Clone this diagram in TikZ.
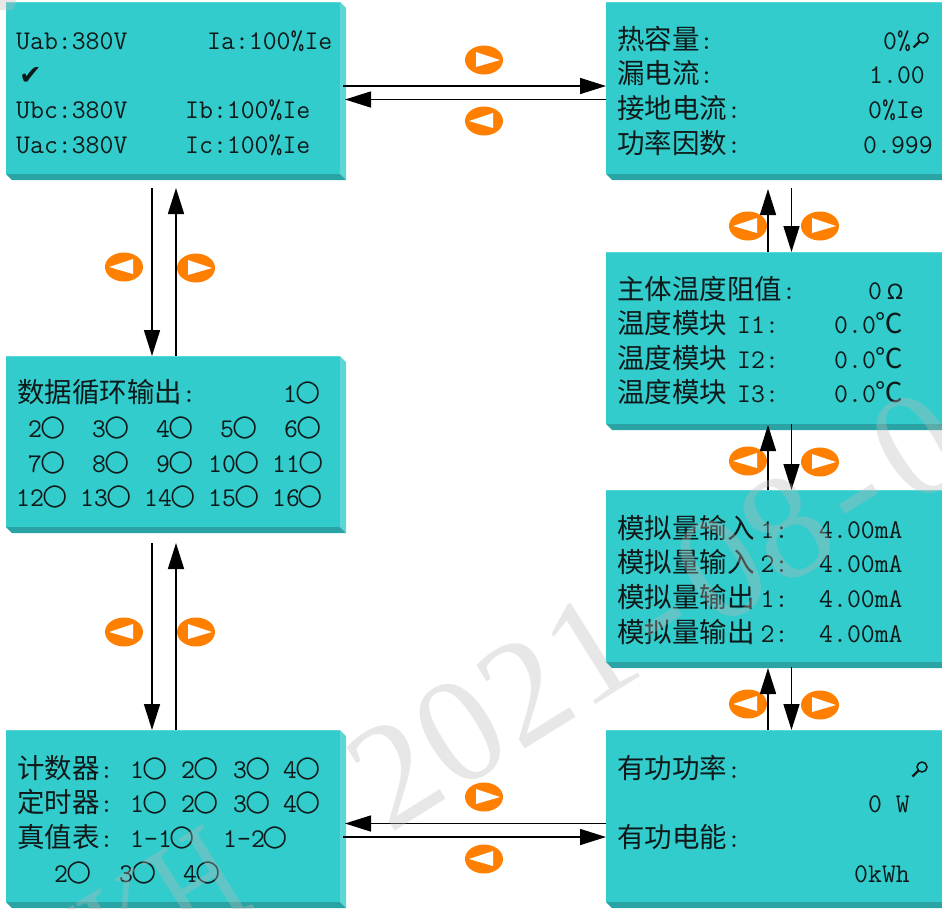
\documentclass[tikz,border=0pt]{standalone}
\usepackage{fontspec}
\usepackage{graphicx}
\usetikzlibrary{shapes.geometric, arrows.meta, positioning}
\newfontfamily\cjk{Noto Sans CJK SC}
\newfontfamily\symfont{DejaVu Sans}
\newfontfamily\markfont{Liberation Serif}
\definecolor{panelfront}{RGB}{50, 204, 204}
\definecolor{panellight}{RGB}{92, 214, 214}
\definecolor{paneldark}{RGB}{41, 163, 163}
\definecolor{keyorange}{RGB}{255, 128, 0}
\definecolor{inkblack}{RGB}{15, 25, 25}
\newcommand{\zh}[1]{{\cjk\fontsize{27.5}{28}\selectfont #1}}
\newcommand{\lamp}{{\symfont\fontsize{29}{28}\selectfont\kern-2pt\raisebox{1.5pt}{○}}}
\newcommand{\cell}[1]{\makebox[77pt]{#1}}
\tikzset{
  panel/.style={rectangle, fill=panelfront, inner sep=0pt, outer sep=0pt, anchor=north west},
  readout/.style={anchor=base west, inner sep=0pt, text=inkblack, font=\ttfamily\fontsize{27}{28}\selectfont},
  flow/.style={line width=1.6pt, -{Triangle[length=26pt, width=16pt]}},
  keyleft/.style={ellipse, fill=keyorange, minimum width=38pt, minimum height=29pt, inner sep=0pt,
    path picture={\fill[white] ([xshift=-15pt]path picture bounding box.center) -- ([xshift=9pt,yshift=8pt]path picture bounding box.center) -- ([xshift=9pt,yshift=-7pt]path picture bounding box.center) -- cycle;}},
  keyright/.style={ellipse, fill=keyorange, minimum width=38pt, minimum height=29pt, inner sep=0pt,
    path picture={\fill[white] ([xshift=16pt]path picture bounding box.center) -- ([xshift=-8pt,yshift=8pt]path picture bounding box.center) -- ([xshift=-8pt,yshift=-7pt]path picture bounding box.center) -- cycle;}},
  lens/.pic={
    \draw[inkblack, line width=1.5pt] (0,0) circle (5pt);
    \draw[inkblack, line width=2.2pt] (-3.5,3.5) -- (-9.5,9.5);
  },
  watermark/.style={inner sep=0pt, rotate=32, text=black!27, opacity=.35, font=\markfont\fontsize{150}{150}\selectfont}
}
\newcommand{\bevel}[1]{
  \fill[panellight] (#1.north east) -- ([xshift=6pt,yshift=-6pt]#1.north east) -- ([xshift=6pt,yshift=-6pt]#1.south east) -- (#1.south east) -- cycle;
  \fill[paneldark] (#1.south west) -- (#1.south east) -- ([xshift=6pt,yshift=-6pt]#1.south east) -- ([xshift=6pt,yshift=-6pt]#1.south west) -- cycle;
  \draw[panellight, line width=.8pt] (#1.north west) -- (#1.north east);
}
\begin{document}
\begin{tikzpicture}[x=1pt, y=-1pt]
  \useasboundingbox (0,0) rectangle (942,908);
  \clip (0,0) rectangle (942,908);

  % Panels
  \node[panel, minimum width=334pt, minimum height=172pt] (volt) at (6,2) {};
  \node[panel, minimum width=334pt, minimum height=171pt] (loop) at (6,356) {};
  \node[panel, minimum width=334pt, minimum height=172pt] (count) at (6,730) {};
  \node[panel, minimum width=338pt, minimum height=172pt] (heat) at (606,2) {};
  \node[panel, minimum width=338pt, minimum height=172pt] (temp) at (606,252) {};
  \node[panel, minimum width=338pt, minimum height=172pt] (analog) at (606,490) {};
  \node[panel, minimum width=338pt, minimum height=172pt] (power) at (606,730) {};
  \bevel{volt} \bevel{loop} \bevel{count} \bevel{heat} \bevel{temp} \bevel{analog} \bevel{power}

  % Keys
  \node[keyright] (keya) at (484,60) {};
  \node[keyleft] (keyb) at (484,121) {};
  \node[keyleft] (keyc) at (124,267) {};
  \node[keyright] (keyd) at (196,268) {};
  \node[keyleft] (keye) at (124,632) {};
  \node[keyright] (keyf) at (196,632) {};
  \node[keyleft] (keyg) at (748,226) {};
  \node[keyright] (keyh) at (820,226) {};
  \node[keyleft] (keyi) at (748,461) {};
  \node[keyright] (keyj) at (820,462) {};
  \node[keyleft] (keyk) at (748,704) {};
  \node[keyright] (keyl) at (820,705) {};
  \node[keyright] (keym) at (484,797) {};
  \node[keyleft] (keyn) at (484,859) {};

  % Connectors
  \draw[flow] ([xshift=3pt,yshift=-84pt]volt.north east) -- ([yshift=-84pt]heat.north west);
  \draw[flow] ([yshift=-97.5pt]heat.north west) -- ([xshift=5pt,yshift=-97.5pt]volt.north east);
  \draw[flow] ([xshift=146pt,yshift=-14pt]volt.south west) -- ([xshift=146pt]loop.north west);
  \draw[flow] ([xshift=170pt]loop.north west) -- ([xshift=170pt,yshift=-14pt]volt.south west);
  \draw[flow] ([xshift=146pt,yshift=-16pt]loop.south west) -- ([xshift=146pt]count.north west);
  \draw[flow] ([xshift=170pt]count.north west) -- ([xshift=170pt,yshift=-16pt]loop.south west);
  \draw[flow] ([xshift=162pt]temp.north west) -- ([xshift=162pt,yshift=-15pt]heat.south west);
  \draw[flow] ([xshift=185.5pt,yshift=-14pt]heat.south west) -- ([xshift=185.5pt]temp.north west);
  \draw[flow] ([xshift=162pt]analog.north west) -- ([xshift=162pt,yshift=-1pt]temp.south west);
  \draw[flow] ([xshift=185.5pt]temp.south west) -- ([xshift=185.5pt]analog.north west);
  \draw[flow] ([xshift=162pt]power.north west) -- ([xshift=162pt,yshift=-6pt]analog.south west);
  \draw[flow] ([xshift=185.5pt,yshift=-5pt]analog.south west) -- ([xshift=185.5pt]power.north west);
  \draw[flow] ([yshift=-93.5pt]power.north west) -- ([xshift=5pt,yshift=-93.5pt]count.north east);
  \draw[flow] ([xshift=3pt,yshift=-107pt]count.north east) -- ([yshift=-107pt]power.north west);

  % Voltage and current
  \node[readout] (uab) at (16,49) {Uab:380V};
  \node[readout] (ia) at (207,49) {Ia:100\%Ie};
  \node[readout, font=\symfont\fontsize{27}{28}\selectfont] (tick) at (19,84) {✔};
  \node[readout] (ubc) at (16,118) {Ubc:380V};
  \node[readout] (ib) at (185,118) {Ib:100\%Ie};
  \node[readout] (uac) at (16,153) {Uac:380V};
  \node[readout] (ic) at (185,153) {Ic:100\%Ie};

  % Heat and leakage
  \node[readout] (heatl) at (617,49) {\zh{热容量}:};
  \node[readout] (heatv) at (883,49) {0\%};
  \pic at (923,38) {lens};
  \node[readout] (leakl) at (617,83) {\zh{漏电流}:};
  \node[readout] (leakv) at (869,83) {1.00};
  \node[readout] (earthl) at (617,118) {\zh{接地电流}:};
  \node[readout] (earthv) at (868,118) {0\%Ie};
  \node[readout] (pfl) at (617,153) {\zh{功率因数}:};
  \node[readout] (pfv) at (863,153) {0.999};

  % Temperature
  \node[readout] (bodyl) at (617,299) {\zh{主体温度阻值}:};
  \node[readout] (bodyv) at (868,299) {0\kern5pt{\symfont\fontsize{21}{28}\selectfont Ω}};
  \foreach \i/\y in {1/333, 2/368, 3/402} {
    \node[readout] (templ\i) at (617,\y) {\zh{温度模块}\kern10pt I\i:};
    \node[readout] (tempv\i) at (834,\y) {0.0\zh{℃}};
  }

  % Analog
  \foreach \i/\y/\w/\n in {1/538/输入/1, 2/572/输入/2, 3/607/输出/1, 4/642/输出/2} {
    \node[readout] (anal\i) at (617,\y) {\zh{模拟量\w}\kern6pt\n:};
    \node[readout] (anav\i) at (819,\y) {4.00mA};
  }

  % Power
  \node[readout] (pwrl) at (617,778) {\zh{有功功率}:};
  \pic at (922,767) {lens};
  \node[readout] (pwrv) at (868,812) {0 W};
  \node[readout] (enel) at (617,847) {\zh{有功电能}:};
  \node[readout] (enev) at (854,882) {0kWh};

  % Data loop
  \node[readout] (loopl) at (17,402) {\zh{数据循环输出}:};
  \node[readout] (lamp1) at (283,402) {1\lamp};
  \foreach \n/\x/\y in {2/28/437, 3/92/437, 4/156/437, 5/220/437, 6/284/437,
                        7/28/472, 8/92/472, 9/156/472, 10/208/472, 11/272/472,
                        12/16/506, 13/80/506, 14/144/506, 15/208/506, 16/272/506} {
    \node[readout] (lamp\n) at (\x,\y) {\n\lamp};
  }

  % Counters
  \node[readout] (cntl) at (17,778) {\zh{计数器}:};
  \node[readout] (timl) at (17,812) {\zh{定时器}:};
  \foreach \n/\x in {1/130, 2/181, 3/233, 4/283} {
    \node[readout] (cnt\n) at (\x,778) {\n\lamp};
    \node[readout] (tim\n) at (\x,812) {\n\lamp};
  }
  \node[readout] (truel) at (17,847) {\zh{真值表}:};
  \node[readout] (truea) at (130,847) {1-1\lamp};
  \node[readout] (trueb) at (223,847) {1-2\lamp};
  \node[readout] (truec) at (54,882) {2\lamp};
  \node[readout] (trued) at (119,882) {3\lamp};
  \node[readout] (truee) at (183,882) {4\lamp};

  % Watermark
  \node[watermark, anchor=base west] (stamp) at (388,835) {\cell{2}\cell{0}\cell{2}\cell{1}\cell{-}\cell{0}\cell{8}\cell{-}\cell{0}};
  \node[watermark, anchor=base east] (stampw) at (258,906) {\scalebox{.72}[1]{WKH}};
  \fill[black!27, opacity=.35] (0,0) -- (16,0) -- (13,10) -- (0,10) -- cycle;
\end{tikzpicture}
\end{document}
